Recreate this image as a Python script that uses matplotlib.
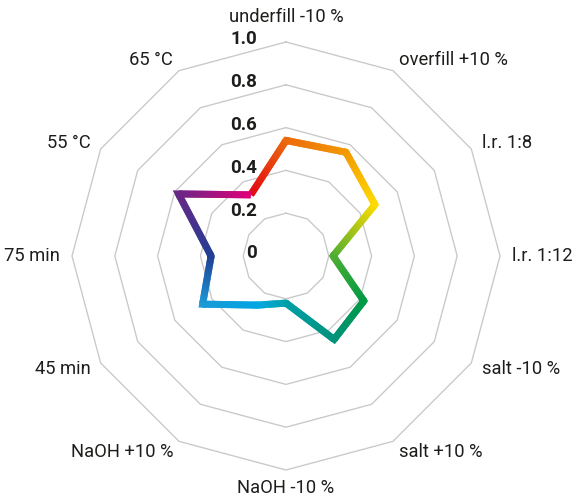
import numpy as np
import matplotlib
matplotlib.use("Agg")
import matplotlib.pyplot as plt
from matplotlib.collections import LineCollection
from matplotlib.colors import to_rgb

categories = ["underfill -10 %", "overfill +10 %", "l.r. 1:8", "l.r. 1:12",
              "salt -10 %", "salt +10 %", "NaOH -10 %", "NaOH +10 %",
              "45 min", "75 min", "55 °C", "65 °C"]
values = [0.54, 0.56, 0.48, 0.22, 0.42, 0.45, 0.22, 0.265, 0.45, 0.35, 0.58, 0.33]
ring_values = [0.2, 0.4, 0.6, 0.8, 1.0]
tick_labels = ["0", "0.2", "0.4", "0.6", "0.8", "1.0"]
tick_positions = [0, 0.2, 0.4, 0.6, 0.8, 1.0]
# colours at each vertex along the path (starting at "65 °C", red)
vertex_colors = ["#e30613", "#ec6a0c", "#f39a00", "#ffdc00", "#4fae32", "#009a44",
                 "#00927a", "#00a0a8", "#00a6e2", "#1b9ad8", "#213f94", "#6a2786", "#e2007a"]

W, H = 577, 497
cx, cy, R = 286, 256, 214
fig = plt.figure(figsize=(W / 100, H / 100), dpi=100)
ax = fig.add_axes([0, 0, 1, 1])
ax.set_xlim(-cx / R, (W - cx) / R)
ax.set_ylim(-(H - cy) / R, cy / R)
ax.axis("off")

n = len(categories)
theta = np.arange(n) * 2 * np.pi / n

# polygon grid rings
for rv in ring_values:
    t = np.append(theta, theta[0])
    ax.plot(rv * np.sin(t), rv * np.cos(t), color="#c8c8c8", lw=0.95, zorder=1)

# data path starting at 65 °C, going clockwise round to 65 °C again
order = [11] + list(range(12))
px = np.array([values[i] * np.sin(theta[i]) for i in order])
py = np.array([values[i] * np.cos(theta[i]) for i in order])
LW = 5.0

# short mitred corner pieces so the polygon corners look solid
for k in range(1, len(order) - 1):
    ax.plot([px[k] - (px[k] - px[k - 1]) * 0.05, px[k], px[k] + (px[k + 1] - px[k]) * 0.05],
            [py[k] - (py[k] - py[k - 1]) * 0.05, py[k], py[k] + (py[k + 1] - py[k]) * 0.05],
            color=vertex_colors[k], lw=LW, solid_joinstyle="miter",
            solid_capstyle="butt", zorder=3)

segs, cols = [], []
steps = 60
for k in range(len(order) - 1):
    c0 = np.array(to_rgb(vertex_colors[k]))
    c1 = np.array(to_rgb(vertex_colors[k + 1]))
    dx, dy = px[k + 1] - px[k], py[k + 1] - py[k]
    for j in range(steps):
        f0 = j / steps
        f1 = min((j + 2.0) / steps, 1.0)
        segs.append([(px[k] + dx * f0, py[k] + dy * f0), (px[k] + dx * f1, py[k] + dy * f1)])
        f = (j + 0.5) / steps
        cols.append(c0 * (1 - f) + c1 * f)
lc = LineCollection(segs, colors=cols, linewidths=LW, capstyle="butt",
                    joinstyle="miter", zorder=4, antialiaseds=True)
ax.add_collection(lc)

# category labels
font = "Roboto"
for i, lab in enumerate(categories):
    s, c = np.sin(theta[i]), np.cos(theta[i])
    if abs(s) < 1e-6:
        r = 1.115 if c > 0 else 1.085
        ha = "center"
    else:
        r = 1.055
        ha = "left" if s > 0 else "right"
    ax.text(r * s, r * c, lab, ha=ha, va="center", fontsize=13.2, color="#1d1d1b",
            family=font)

# radial tick labels
for v, t in zip(tick_positions, tick_labels):
    ax.text(-0.135, v + 0.012, t, ha="right", va="center", fontsize=13.5,
            fontweight="bold", color="#1d1d1b", family=font)

fig.savefig("out.png", dpi=100)
